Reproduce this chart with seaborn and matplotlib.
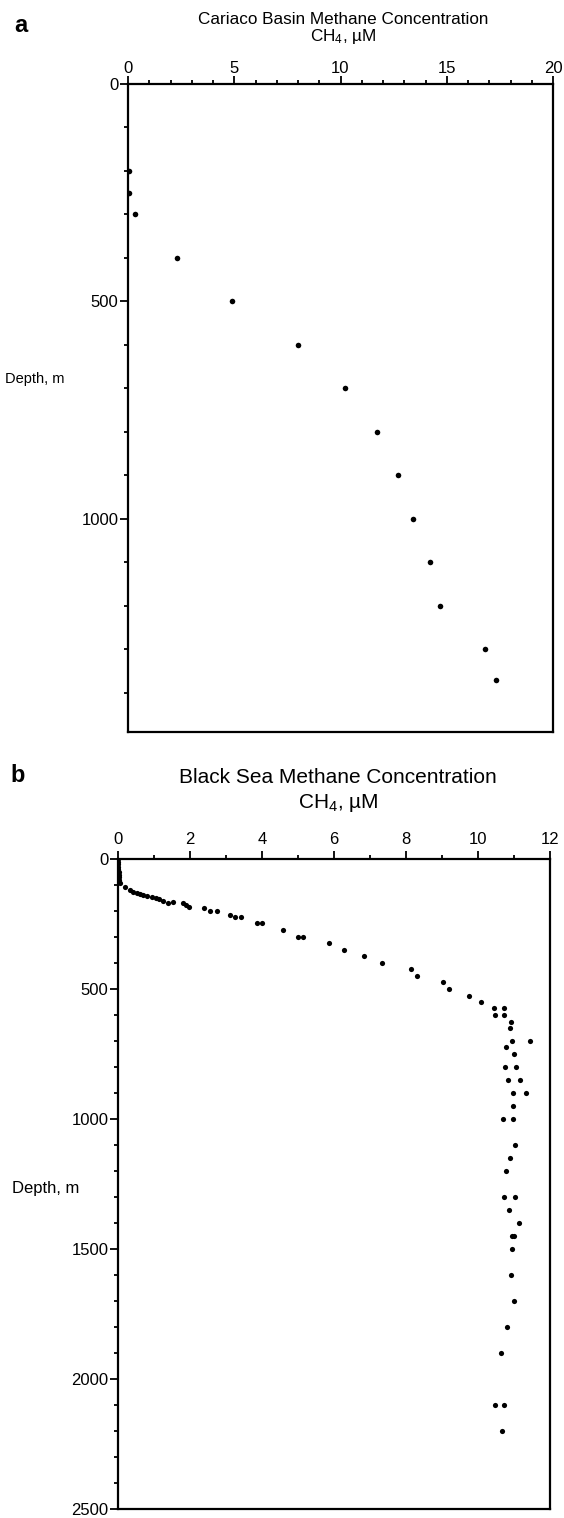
import numpy as np
import pandas as pd
import seaborn as sns
import matplotlib.pyplot as plt
from matplotlib.ticker import MultipleLocator, FixedLocator

# Data

# panel a - Cariaco Basin
cariaco_depth = [200, 250, 300, 400, 500, 600, 700, 800, 900, 1000, 1100, 1200, 1300, 1370]
cariaco_ch4 = [0.05, 0.05, 0.35, 2.3, 4.9, 8.0, 10.2, 11.7, 12.7, 13.4, 14.2, 14.7, 16.8, 17.3]

# panel b - Black Sea
black_sea_depth = [0, 10, 20, 30, 40, 50, 60, 70, 80, 88,
                   93, 108, 119, 127, 130, 134, 139, 142, 145, 150,
                   155, 161, 169, 165, 170, 178, 184, 189, 199, 199,
                   215, 224, 224, 247, 247, 273, 299, 299, 322, 349,
                   374, 399, 424, 450, 474, 500, 526, 551, 574, 574,
                   601, 601, 626, 650, 700, 700, 723, 750, 800, 800,
                   850, 850, 900, 900, 950, 1000, 1000, 1100, 1150, 1200,
                   1300, 1300, 1350, 1400, 1450, 1450, 1500, 1600, 1700, 1800,
                   1900, 2100, 2100, 2200]
black_sea_ch4 = [0.0, 0.0, 0.01, 0.01, 0.01, 0.02, 0.02, 0.03, 0.03, 0.04,
                 0.05, 0.2, 0.33, 0.43, 0.52, 0.61, 0.7, 0.8, 0.94, 1.06,
                 1.15, 1.24, 1.4, 1.52, 1.8, 1.9, 1.98, 2.4, 2.56, 2.75,
                 3.1, 3.26, 3.42, 3.87, 4.0, 4.57, 5.0, 5.15, 5.85, 6.27,
                 6.82, 7.32, 8.13, 8.3, 9.03, 9.19, 9.75, 10.08, 10.45, 10.73,
                 10.47, 10.73, 10.92, 10.89, 10.95, 11.45, 10.78, 11.0, 10.75, 11.06,
                 10.83, 11.17, 10.98, 11.34, 10.98, 10.7, 10.98, 11.03, 10.9, 10.78,
                 10.72, 11.03, 10.86, 11.14, 10.95, 11.0, 10.95, 10.92, 11.0, 10.81,
                 10.64, 10.47, 10.72, 10.67]

df_a = pd.DataFrame({"CH4": cariaco_ch4, "Depth": cariaco_depth})
df_b = pd.DataFrame({"CH4": black_sea_ch4, "Depth": black_sea_depth})

sns.set_style("ticks")
plt.rcParams['font.family'] = ['Liberation Sans', 'DejaVu Sans']
plt.rcParams['mathtext.fontset'] = 'custom'
plt.rcParams['mathtext.rm'] = 'Liberation Sans'
plt.rcParams['mathtext.it'] = 'Liberation Sans:italic'
# plain black text everywhere, like the printed figure
plt.rcParams['text.color'] = 'black'
plt.rcParams['xtick.color'] = 'black'
plt.rcParams['ytick.color'] = 'black'
plt.rcParams['xtick.labelcolor'] = 'black'
plt.rcParams['ytick.labelcolor'] = 'black'
plt.rcParams['axes.labelcolor'] = 'black'

W, H = 564, 1518
fig = plt.figure(figsize=(W / 100, H / 100), dpi=100)


def px_axes(left, top, right, bottom):
    return fig.add_axes([left / W, 1 - bottom / H, (right - left) / W, (bottom - top) / H])


def style_axes(ax, tick_size, xpad):
    for s in ax.spines.values():
        s.set_visible(True)
        s.set_color("black")
        s.set_linewidth(1.6)
    ax.xaxis.tick_top()
    ax.tick_params(axis="x", which="both", top=True, bottom=False, direction="out",
                   color="black", labelcolor="black", width=1.3, labelsize=tick_size, pad=xpad)
    ax.tick_params(axis="y", which="both", left=True, right=False, direction="out",
                   color="black", labelcolor="black", width=1.3, labelsize=tick_size, pad=1.5)
    ax.tick_params(which="major", length=5.5)
    ax.tick_params(which="minor", length=3)
    ax.set_xlabel("")
    ax.set_ylabel("")


# ---- panel a ----
ax1 = px_axes(128, 84, 553, 732)
sns.scatterplot(data=df_a, x="CH4", y="Depth", ax=ax1, color="black", s=16, linewidth=0)
ax1.set_xlim(0, 20)
ax1.set_ylim(1490, 0)
ax1.xaxis.set_major_locator(FixedLocator([0, 5, 10, 15, 20]))
ax1.xaxis.set_minor_locator(MultipleLocator(1))
ax1.yaxis.set_major_locator(FixedLocator([0, 500, 1000]))
ax1.yaxis.set_minor_locator(FixedLocator([d for d in range(100, 1500, 100) if d % 500]))
style_axes(ax1, 12, 0.5)

fig.text(343 / W, 1 - 19 / H, "Cariaco Basin Methane Concentration",
         ha="center", va="center", fontsize=12.3)
fig.text(343 / W, 1 - 36 / H, "CH$_4$, µM", ha="center", va="center", fontsize=12.3)
fig.text(14 / W, 1 - 26 / H, "a", ha="left", va="center", fontsize=17, fontweight="bold")
fig.text(5 / W, 1 - 379 / H, "Depth, m", ha="left", va="center", fontsize=10.5)

# ---- panel b ----
ax2 = px_axes(118, 859, 550, 1509)
sns.scatterplot(data=df_b, x="CH4", y="Depth", ax=ax2, color="black", s=14, linewidth=0)
ax2.set_xlim(0, 12)
ax2.set_ylim(2500, 0)
ax2.xaxis.set_major_locator(MultipleLocator(2))
ax2.xaxis.set_minor_locator(MultipleLocator(1))
ax2.yaxis.set_major_locator(MultipleLocator(500))
ax2.yaxis.set_minor_locator(MultipleLocator(100))
style_axes(ax2, 12, 3)

fig.text(338 / W, 1 - 777 / H, "Black Sea Methane Concentration",
         ha="center", va="center", fontsize=15)
fig.text(338 / W, 1 - 803 / H, "CH$_4$, µM", ha="center", va="center", fontsize=15)
fig.text(10 / W, 1 - 775 / H, "b", ha="left", va="center", fontsize=17, fontweight="bold")
fig.text(12 / W, 1 - 1189 / H, "Depth, m", ha="left", va="center", fontsize=12)

fig.savefig("out.png", dpi=100)
